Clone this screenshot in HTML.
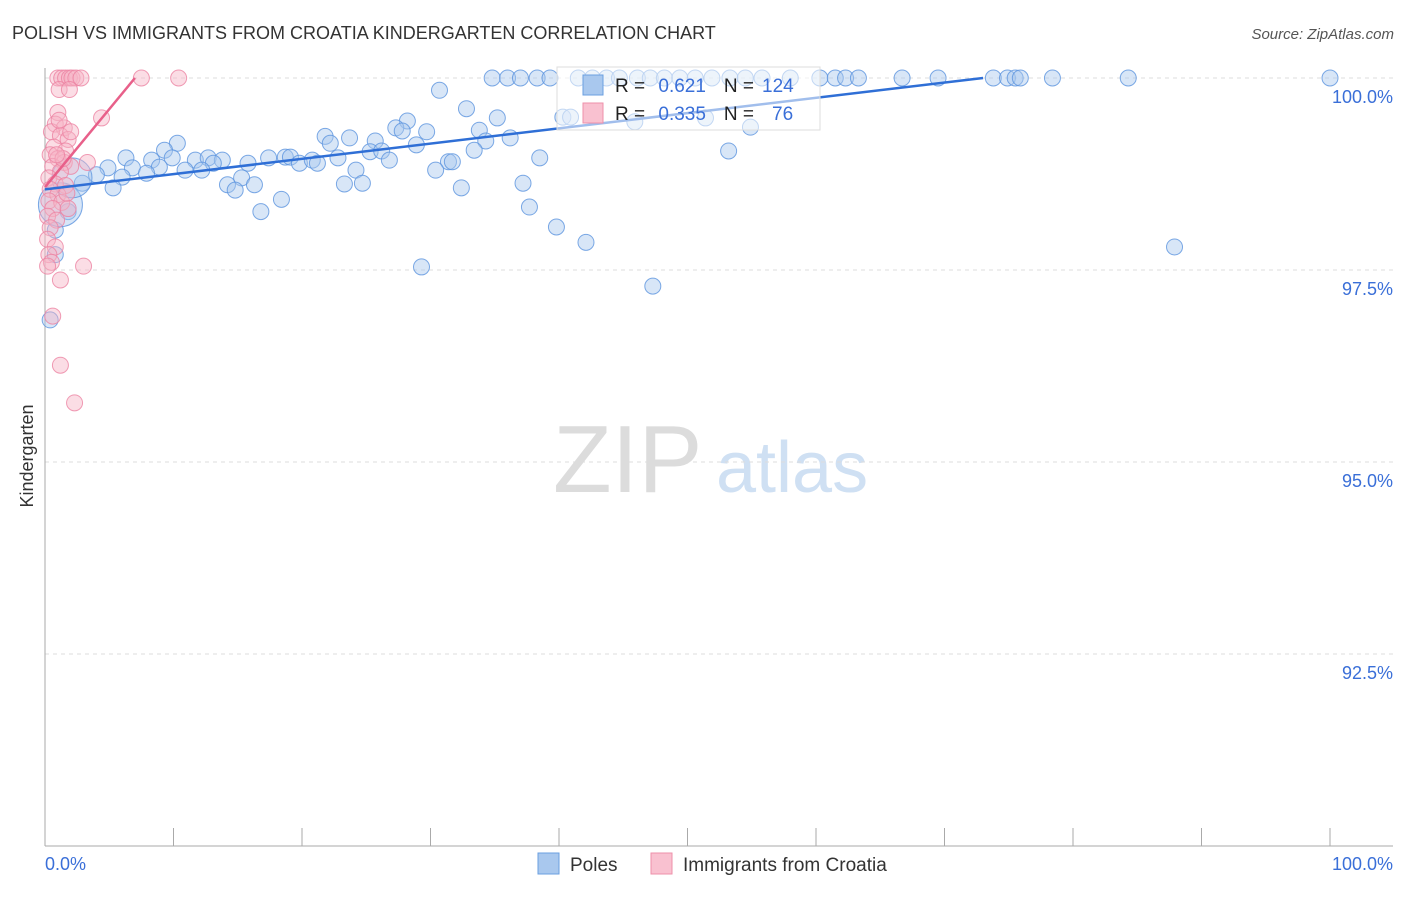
<!DOCTYPE html>
<html><head><meta charset="utf-8"><style>
body{margin:0;background:#fff;font-family:"Liberation Sans",sans-serif;}
svg text{font-family:"Liberation Sans",sans-serif;}
</style></head><body>
<svg id="c" width="1406" height="892" viewBox="0 0 1406 892">
<text x="12" y="39" font-size="18" fill="#333">POLISH VS IMMIGRANTS FROM CROATIA KINDERGARTEN CORRELATION CHART</text>
<text x="1394" y="39" font-size="15" fill="#555" font-style="italic" text-anchor="end">Source: ZipAtlas.com</text>
<text x="0" y="0" transform="translate(33,456) rotate(-90)" font-size="18" fill="#333" text-anchor="middle">Kindergarten</text>
<g>
<text x="553" y="492" font-size="96" font-family="Liberation Serif" fill="#dcdcdc">ZIP</text>
<text x="716" y="492" font-size="72" fill="#cfe0f3">atlas</text>
</g>
<g id="grid"></g>
<g id="axes"></g>
<g id="pts"></g>
<g id="lines"></g>
<g>
<rect x="557" y="67" width="263" height="63" fill="#fff" fill-opacity="0.55" stroke="#ddd"/>
<rect x="583" y="75" width="20" height="20" fill="#a9c8ee" stroke="#6a9fe0"/>
<rect x="583" y="103" width="20" height="20" fill="#f9c1d0" stroke="#ee90aa"/>
<text x="615" y="92" font-size="19" fill="#222">R = <tspan fill="#3a6fd8" dx="8">0.621</tspan><tspan fill="#222" dx="18">N =</tspan><tspan fill="#3a6fd8" dx="8">124</tspan></text>
<text x="615" y="120" font-size="19" fill="#222">R = <tspan fill="#3a6fd8" dx="8">0.335</tspan><tspan fill="#222" dx="18">N =</tspan><tspan fill="#3a6fd8" dx="18">76</tspan></text>
</g>
<g>
<rect x="538" y="853" width="21" height="21" fill="#a9c8ee" stroke="#6a9fe0"/>
<text x="570" y="871" font-size="19" fill="#333">Poles</text>
<rect x="651" y="853" width="21" height="21" fill="#f9c1d0" stroke="#ee90aa"/>
<text x="683" y="871" font-size="19" fill="#333">Immigrants from Croatia</text>
</g>
</svg>
<script>
const yTicks=[100,97.5,95,92.5];
const yTickLabels=["100.0%","97.5%","95.0%","92.5%"];
const xTicks=[0,10,20,30,40,50,60,70,80,90,100];
const xEndLabels=["0.0%","100.0%"];
const polesX=[34.8,36.0,37.0,38.3,39.3,41.5,42.6,43.7,44.7,46.1,47.1,48.2,49.4,50.6,51.9,53.3,54.5,55.8,58.0,60.3,61.5,62.3,63.3,66.7,69.5,73.8,74.9,75.5,75.9,78.4,84.3,100,
30.7,32.8,35.2,40.3,40.9,45.9,51.4,54.9,28.2,27.3,27.8,29.7,33.8,34.3,36.2,21.8,23.7,25.7,22.2,28.9,10.3,9.3,33.4,25.3,26.2,53.2,6.3,8.3,9.9,11.7,12.7,13.8,13.1,15.8,17.4,18.7,19.1,19.8,20.8,21.2,22.8,26.8,31.4,31.7,38.5,4.9,6.8,8.9,10.9,12.2,24.2,30.4,4.0,6.0,7.9,15.3,2.9,5.3,14.2,14.8,16.3,23.3,24.7,32.4,37.2,18.4,16.8,37.7,39.8,42.1,87.9,29.3,47.3,1.8,0.8,0.8,0.4,1.2,2.1];
const polesY=[100,100,100,100,100,100,100,100,100,100,100,100,100,100,100,100,100,100,100,100,100,100,100,100,100,100,100,100,100,100,100,100,
99.84,99.6,99.48,99.49,99.49,99.43,99.48,99.36,99.44,99.35,99.31,99.30,99.32,99.18,99.22,99.24,99.22,99.18,99.15,99.13,99.15,99.06,99.06,99.04,99.05,99.05,98.96,98.93,98.96,98.93,98.96,98.93,98.89,98.89,98.96,98.97,98.97,98.89,98.93,98.89,98.96,98.93,98.91,98.91,98.96,98.83,98.83,98.84,98.80,98.80,98.80,98.80,98.74,98.71,98.76,98.70,98.63,98.57,98.61,98.54,98.61,98.62,98.63,98.57,98.63,98.42,98.26,98.32,98.06,97.86,97.80,97.54,97.29,98.26,98.02,97.7,96.85,98.35,98.7];
const polesSize=[8,8,8,8,8,8,8,8,8,8,8,8,8,8,8,8,8,8,8,8,8,8,8,8,8,8,8,8,8,8,8,8,8,8,8,8,8,8,8,8,8,8,8,8,8,8,8,8,8,8,8,8,8,8,8,8,8,8,8,8,8,8,8,8,8,8,8,8,8,8,8,8,8,8,8,8,8,8,8,8,8,8,8,8,8,8,8,8,8,8,8,8,8,8,8,8,8,8,8,8,8,8,8,8,8,8,8,8,8,22,20,18,14,12,12];
const croX=[1,1.3,1.6,1.9,2.1,2.4,2.8,7.5,10.4,1.1,1.9,4.4,1.0,0.8,1.5,0.5,1.2,1.8,0.7,1.6,0.4,1.0,1.5,0.6,2.0,1.2,0.3,0.8,1.6,0.4,1.0,0.3,1.3,0.6,1.8,0.2,0.9,0.4,0.2,0.8,0.3,0.5,0.2,3.0,1.2,0.6,1.2,2.3,3.3,1.1,2.0,1.4,1.7,0.9];
const croY=[100,100,100,100,100,100,100,100,100,99.85,99.85,99.48,99.55,99.4,99.35,99.3,99.25,99.2,99.1,99.05,99.0,98.95,98.9,98.85,98.85,98.78,98.7,98.62,98.6,98.55,98.48,98.4,98.38,98.3,98.3,98.2,98.15,98.05,97.9,97.8,97.7,97.6,97.55,97.55,97.37,96.9,96.26,95.77,98.9,99.45,99.3,98.95,98.5,99.0];
const polesLine=[0,98.55,73,100];
const croLine=[0,98.58,7.0,100];
const X=v=>45+v*12.85, Y=v=>78+(100-v)*76.8;
const NS="http://www.w3.org/2000/svg";
function mk(t,a,p){const e=document.createElementNS(NS,t);for(const k in a)e.setAttribute(k,a[k]);p.appendChild(e);return e;}
const grid=document.getElementById('grid'),axes=document.getElementById('axes'),pts=document.getElementById('pts'),lines=document.getElementById('lines');
yTicks.forEach((v,i)=>{
 const l=mk('line',{x1:45,x2:1393,y1:Y(v),y2:Y(v),stroke:'#ddd','stroke-dasharray':'4,4'},grid);
 
 
 const t=mk('text',{x:1393,y:Y(v)+25,'font-size':18,fill:'#3a6fd8','text-anchor':'end'},axes);
 t.textContent=yTickLabels[i];
 
 
});
const ya=mk('line',{x1:45,x2:45,y1:68,y2:846,stroke:'#aaa'},axes);


const xa=mk('line',{x1:45,x2:1393,y1:846,y2:846,stroke:'#aaa'},axes);


xTicks.forEach(v=>{
 const t=mk('line',{x1:X(v),x2:X(v),y1:828,y2:846,stroke:'#aaa'},axes);
 
 
});
const xl0=mk('text',{x:45,y:870,'font-size':18,fill:'#3a6fd8'},axes);
xl0.textContent=xEndLabels[0];


const xl1=mk('text',{x:1393,y:870,'font-size':18,fill:'#3a6fd8','text-anchor':'end'},axes);
xl1.textContent=xEndLabels[1];


polesX.forEach((v,i)=>{
 const c=mk('circle',{cx:X(v),cy:Y(polesY[i]),r:polesSize[i],fill:'#a9c8ee','fill-opacity':0.45,stroke:'#5b93de','stroke-opacity':0.8},pts);
 
 
});
croX.forEach((v,i)=>{
 const c=mk('circle',{cx:X(v),cy:Y(croY[i]),r:8,fill:'#f7b3c6','fill-opacity':0.45,stroke:'#ec83a2','stroke-opacity':0.8},pts);
 
 
});
const pl=mk('line',{x1:X(polesLine[0]),y1:Y(polesLine[1]),x2:X(polesLine[2]),y2:Y(polesLine[3]),stroke:'#2f6fd6','stroke-width':2.5},lines);


const cl=mk('line',{x1:X(croLine[0]),y1:Y(croLine[1]),x2:X(croLine[2]),y2:Y(croLine[3]),stroke:'#e8608a','stroke-width':2.5},lines);


</script>
</body></html>
